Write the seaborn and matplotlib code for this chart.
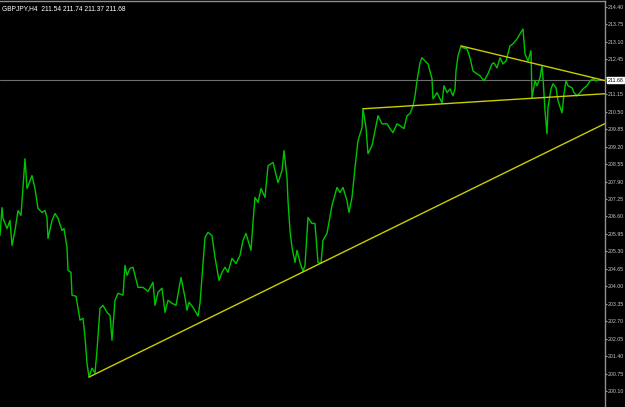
import numpy as np
import pandas as pd
import matplotlib
matplotlib.use("Agg")
import matplotlib.pyplot as plt
import matplotlib.transforms as mtransforms
import seaborn as sns

# ---- data (bar index, close price) ----
bars = [0, 2, 3, 7, 10, 12, 15, 18, 21, 23, 25, 27, 32, 35, 38, 42, 45, 47, 48, 52,
        55, 58, 62, 64, 67, 68, 71, 72, 76, 80, 83, 85, 87, 89, 92, 95, 97, 100, 103, 107,
        110, 112, 115, 118, 123, 125, 127, 130, 133, 138, 143, 148, 153, 155, 158, 162, 165, 168, 172, 176,
        181, 185, 187, 189, 193, 198, 200, 205, 208, 212, 215, 219, 222, 225, 228, 232, 236, 240, 243, 246,
        248, 251, 253, 255, 258, 261, 265, 268, 273, 278, 282, 284, 287, 288, 290, 292, 295, 297, 300, 303,
        305, 308, 312, 315, 318, 321, 323, 327, 332, 337, 340, 343, 347, 349, 352, 355, 358, 362, 363, 366,
        368, 372, 375, 378, 382, 387, 390, 393, 397, 400, 404, 407, 410, 413, 415, 417, 420, 422, 425, 428,
        432, 433, 437, 440, 442, 444, 447, 450, 453, 455, 456, 458, 461, 463, 467, 470, 473, 477, 480, 484,
        488, 492, 494, 497, 500, 503, 506, 510, 513, 517, 520, 523, 525, 528, 531, 532, 535, 537, 540, 542,
        543, 545, 547, 548, 551, 553, 556, 558, 562, 564, 566, 568, 572, 574, 577, 580, 583, 587, 590, 593,
        596, 598]
close = [205.89, 206.93, 206.53, 206.15, 206.45, 205.52, 206.08, 206.82, 206.64, 207.68,
         208.75, 207.64, 208.12, 207.64, 206.90, 206.75, 206.82, 206.56, 205.78, 206.45,
         206.71, 206.53, 206.08, 206.15, 205.45, 204.59, 204.52, 203.67, 203.63, 202.74,
         202.81, 202.11, 201.14, 200.62, 200.95, 200.77, 201.62, 203.18, 203.29, 203.03,
         202.92, 201.99, 203.48, 203.74, 203.67, 204.78, 204.41, 204.67, 204.71, 203.96,
         203.96, 203.81, 204.15, 203.29, 203.78, 203.93, 203.03, 203.48, 203.37, 203.29,
         204.33, 203.59, 203.11, 203.41, 203.22, 202.89, 203.37, 205.82, 206.01, 205.89,
         205.08, 204.22, 204.52, 204.71, 204.52, 205.04, 204.85, 205.15, 205.71, 205.97,
         205.71, 205.34, 206.38, 207.31, 207.12, 207.64, 207.31, 208.49, 208.61, 207.86,
         208.31, 209.05, 208.05, 207.19, 206.08, 205.45, 204.89, 205.34, 204.89, 204.56,
         204.78, 206.56, 206.34, 206.34, 204.89, 204.85, 205.71, 205.97, 207.01, 207.68,
         207.49, 207.68, 207.19, 206.75, 207.31, 208.42, 209.42, 209.91, 210.61, 209.91,
         208.94, 209.24, 209.79, 210.35, 210.05, 210.05, 209.87, 209.72, 210.05, 209.98,
         209.87, 210.35, 210.43, 210.72, 211.09, 211.65, 212.32, 212.51, 212.39, 212.28,
         211.73, 210.98, 211.21, 210.98, 210.83, 211.47, 211.21, 211.35, 211.09, 211.35,
         212.02, 212.58, 212.95, 212.88, 212.84, 212.51, 212.02, 211.91, 211.84, 211.65,
         211.91, 212.28, 212.32, 212.13, 212.51, 212.28, 212.39, 212.95, 213.03, 213.21,
         213.40, 213.58, 212.65, 212.39, 212.77, 211.02, 211.65, 211.47, 211.76, 212.21,
         211.76, 210.54, 209.68, 210.65, 211.35, 211.54, 211.39, 210.91, 210.46, 211.17,
         211.65, 211.47, 211.39, 211.21, 211.09, 211.21, 211.35, 211.47, 211.65, 211.73,
         211.65, 211.68]

# trend lines: (start bar, start price, end bar, end price)
trend_bars = [[89, 605], [363, 605], [461, 605]]
trend_prices = [[200.62, 210.06], [210.61, 211.17], [212.95, 211.66]]

title_text = "GBPJPY,H4  211.54 211.74 211.37 211.68"
last_price = 211.68
tick_values = [200.10, 200.75, 201.40, 202.05, 202.70, 203.35, 204.00, 204.65, 205.30,
               205.95, 206.60, 207.25, 207.90, 208.55, 209.20, 209.85, 210.50, 211.15,
               211.80, 212.45, 213.10, 213.75, 214.40]
# 211.80 is hidden behind the current-price box in the reference
tick_labels = ["" if abs(v - 211.80) < 1e-6 else "%.2f" % v for v in tick_values]

# ---- style ----
sns.set_style("dark", {"axes.facecolor": "black", "figure.facecolor": "black"})
plt.rcParams["font.family"] = ["Liberation Sans", "DejaVu Sans"]

fig = plt.figure(figsize=(6.25, 4.07), dpi=100)
ax = fig.add_axes([0.0, 0.0, 605 / 625, 406 / 407])
ax.set_facecolor("black")

df = pd.DataFrame({"bar": bars, "close": close})
sns.lineplot(data=df, x="bar", y="close", ax=ax, color="#00C400", linewidth=1.0)

for xs, ys in zip(trend_bars, trend_prices):
    sns.lineplot(x=xs, y=ys, ax=ax, color="#CCCC00", linewidth=1.0)

ax.axhline(last_price, color="#707070", linewidth=0.8, zorder=0)

ax.set_xlim(0, 605)
ax.set_ylim(199.506, 214.623)
ax.set_xlabel("")
ax.set_ylabel("")
ax.set_xticks([])
ax.grid(False)

ax.yaxis.tick_right()
ax.set_yticks(tick_values)
ax.set_yticklabels(tick_labels)
ax.tick_params(axis="y", direction="out", length=1.5, width=0.8, color="#A0A0A0",
               labelcolor="#C8C8C8", labelsize=3.8, pad=0.6)

for side in ["left", "bottom"]:
    ax.spines[side].set_visible(False)
for side in ["top", "right"]:
    ax.spines[side].set_visible(True)
    ax.spines[side].set_color("#909090")
    ax.spines[side].set_linewidth(1.0)

ax.text(0.004, 0.99, title_text, transform=ax.transAxes, ha="left", va="top",
        color="white", fontsize=4.8)

trans = mtransforms.blended_transform_factory(ax.transAxes, ax.transData)
ax.text(1.004, last_price, "%.2f" % last_price, transform=trans, ha="left", va="center",
        color="black", fontsize=3.8, clip_on=False,
        bbox=dict(boxstyle="square,pad=0.15", facecolor="white", edgecolor="white"))

fig.savefig("out.png", dpi=100, facecolor="black")
